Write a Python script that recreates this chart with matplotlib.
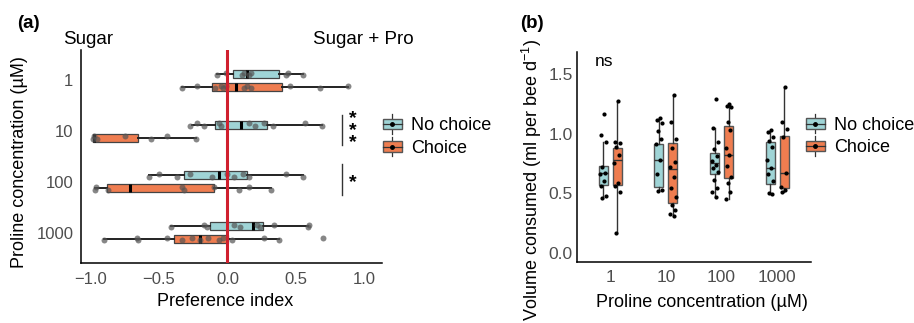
import matplotlib
matplotlib.use('Agg')
import matplotlib.pyplot as plt
import numpy as np
from matplotlib.patches import Rectangle, Patch
from matplotlib.lines import Line2D
from matplotlib.legend_handler import HandlerBase

plt.rcParams['font.family'] = 'Liberation Sans'
plt.rcParams['mathtext.fontset'] = 'custom'
plt.rcParams['mathtext.rm'] = 'Liberation Sans'
plt.rcParams['axes.linewidth'] = 1.1

# ---- data ----
concs = ['1', '10', '100', '1000']
groups = ['No choice', 'Choice']

# (a) preference index, box stats per concentration
pref_nc_lo = [-0.075, -0.26, -0.57, -0.41]
pref_nc_q1 = [0.04, -0.09, -0.32, -0.13]
pref_nc_med = [0.14, 0.10, -0.06, 0.19]
pref_nc_q3 = [0.375, 0.29, 0.14, 0.26]
pref_nc_hi = [0.55, 0.69, 0.55, 0.59]

pref_c_lo = [-0.33, -0.985, -0.97, -0.90]
pref_c_q1 = [-0.11, -0.98, -0.88, -0.39]
pref_c_med = [0.06, -0.975, -0.71, -0.20]
pref_c_q3 = [0.40, -0.65, -0.10, 0.005]
pref_c_hi = [0.885, -0.23, 0.32, 0.375]

pref_nc_pts = [
    [-0.075, -0.01, 0.11, 0.12, 0.16, 0.17, 0.43, 0.44, 0.55],
    [-0.27, -0.22, -0.17, -0.06, -0.05, 0.155, 0.205, 0.265, 0.33, 0.57, 0.69],
    [-0.57, -0.50, -0.365, -0.275, -0.11, 0.0, 0.05, 0.115, 0.16, 0.43, 0.55],
    [-0.41, -0.17, -0.15, 0.05, 0.09, 0.22, 0.24, 0.34, 0.59, 0.60],
]
pref_c_pts = [
    [-0.33, -0.22, -0.09, -0.05, -0.03, -0.01, 0.12, 0.14, 0.17, 0.455, 0.68, 0.885],
    [-0.985, -0.975, -0.95, -0.75, -0.555, -0.44, -0.23],
    [-0.97, -0.96, -0.87, -0.33, -0.32, -0.10, 0.085, 0.155, 0.32],
    [-0.90, -0.66, -0.655, -0.445, -0.33, -0.26, -0.20, -0.14, -0.06, -0.03,
     0.035, 0.265, 0.375, 0.70],
]

# (b) volume consumed
vol_nc_lo = [0.46, 0.52, 0.47, 0.49]
vol_nc_q1 = [0.57, 0.55, 0.66, 0.58]
vol_nc_med = [0.67, 0.775, 0.75, 0.71]
vol_nc_q3 = [0.73, 0.915, 0.835, 0.93]
vol_nc_hi = [0.93, 1.13, 1.05, 1.03]

vol_c_lo = [0.17, 0.31, 0.45, 0.51]
vol_c_q1 = [0.57, 0.42, 0.63, 0.545]
vol_c_med = [0.78, 0.705, 0.82, 0.67]
vol_c_q3 = [0.88, 0.92, 1.065, 0.98]
vol_c_hi = [1.27, 1.32, 1.25, 1.39]

vol_nc_pts = [
    [1.16, 0.99, 0.93, 0.72, 0.67, 0.66, 0.60, 0.56, 0.48, 0.46],
    [1.13, 1.11, 1.09, 1.02, 0.95, 0.91, 0.78, 0.66, 0.53, 0.52],
    [1.29, 1.05, 0.93, 0.87, 0.81, 0.77, 0.74, 0.71, 0.68, 0.61, 0.54, 0.51, 0.47],
    [1.03, 1.01, 0.97, 0.94, 0.89, 0.78, 0.71, 0.66, 0.60, 0.50, 0.49],
]
vol_c_pts = [
    [1.27, 0.93, 0.92, 0.89, 0.82, 0.75, 0.59, 0.56, 0.51, 0.17],
    [1.32, 1.10, 0.95, 0.88, 0.76, 0.72, 0.64, 0.54, 0.47, 0.40, 0.36, 0.33, 0.31],
    [1.25, 1.23, 1.22, 1.10, 1.03, 0.88, 0.82, 0.73, 0.64, 0.59, 0.51, 0.45],
    [1.39, 1.10, 1.04, 0.97, 0.67, 0.55, 0.53, 0.51],
]

teal = '#9fd4d6'
orange = '#ef7d50'
red = '#d0202e'
grey_txt = '#4d4d4d'


def make_stats(lo, q1, med, q3, hi):
    return [dict(whislo=a, q1=b, med=c, q3=d, whishi=e, fliers=[])
            for a, b, c, d, e in zip(lo, q1, med, q3, hi)]


class BoxKey(HandlerBase):
    # ggplot-like boxplot legend key
    def create_artists(self, legend, orig_handle, xdescent, ydescent,
                       width, height, fontsize, trans):
        x0, y0 = -xdescent, -ydescent
        cx, cy = x0 + width / 2, y0 + height / 2
        whisk = Line2D([cx, cx], [y0 - 2, y0 + height + 2], color='#333333',
                       lw=0.9, transform=trans)
        box = Rectangle((x0, y0 + 0.12 * height), width, 0.76 * height,
                        facecolor=orig_handle.get_facecolor(), edgecolor='#555555',
                        lw=1.0, transform=trans)
        med = Line2D([x0, x0 + width], [cy, cy], color='#333333', lw=0.9,
                     transform=trans)
        dot = Line2D([cx], [cy], marker='o', ms=2.5, color='black',
                     transform=trans)
        return [whisk, box, med, dot]


fig = plt.figure(figsize=(9.14, 3.23), dpi=100)

# ================= panel (a) =================
axa = fig.add_axes([81 / 914, 60 / 323, 301 / 914, 213 / 323])
ypos = np.arange(len(concs))
off = 0.128
boxkw = dict(orientation='horizontal', showfliers=False, patch_artist=True,
             widths=0.16, showcaps=False,
             whiskerprops=dict(color='#222222', lw=1.4),
             medianprops=dict(color='black', lw=2.2))
for stats, pos, col in [
        (make_stats(pref_nc_lo, pref_nc_q1, pref_nc_med, pref_nc_q3, pref_nc_hi), ypos - off, teal),
        (make_stats(pref_c_lo, pref_c_q1, pref_c_med, pref_c_q3, pref_c_hi), ypos + off, orange)]:
    bp = axa.bxp(stats, positions=pos, boxprops=dict(facecolor=col, edgecolor='#444444', lw=0.9),
                 **boxkw)
    for m in bp['medians']:
        m.set_zorder(3)
        m.set_solid_capstyle('butt')

for pts_list, sign in [(pref_nc_pts, -1), (pref_c_pts, 1)]:
    for i, pts in enumerate(pts_list):
        jit = 0.025 * np.array([(-1) ** k for k in range(len(pts))])
        axa.plot(pts, ypos[i] + sign * off + jit, 'o', ms=4.3, color='#555555',
                 alpha=0.7, mec='none', zorder=4)

axa.axvline(0, color=red, lw=2.2, zorder=5)

axa.set_xlim(-1.07, 1.13)
axa.set_ylim(3.6, -0.6)
axa.set_yticks(ypos)
axa.set_yticklabels(concs)
axa.set_xticks([-1.0, -0.5, 0.0, 0.5, 1.0])
axa.set_xticklabels(['\u22121.0', '\u22120.5', '0.0', '0.5', '1.0'])
axa.tick_params(length=0, labelsize=12, labelcolor=grey_txt)
axa.tick_params(axis='x', pad=6.5)
axa.tick_params(axis='y', pad=5.5)
for s in ['top', 'right']:
    axa.spines[s].set_visible(False)
axa.set_xlabel('Preference index', fontsize=13)
axa.xaxis.set_label_coords(0.48, -0.183)
axa.xaxis.label.set_va('center')
fig.text(20 / 914, 1 - 162 / 323, 'Proline concentration (\u00b5M)', rotation=90,
         ha='center', va='center', fontsize=13)

# significance marks
axa.plot([0.84, 0.84], [0.68, 1.27], color='#333333', lw=1)
axa.text(0.915, 0.99, '*\n*\n*', ha='center', va='center', fontsize=14,
         fontweight='bold', linespacing=0.62)
axa.plot([0.84, 0.84], [1.65, 2.26], color='#333333', lw=1)
axa.text(0.915, 2.02, '*', ha='center', va='center', fontsize=14, fontweight='bold')

fig.text(63 / 914, 1 - 40 / 323, 'Sugar', ha='left', va='center', fontsize=13.5)
fig.text(313 / 914, 1 - 40 / 323, 'Sugar + Pro', ha='left', va='center', fontsize=13.5)
fig.text(17 / 914, 1 - 24 / 323, '(a)', ha='left', va='center', fontsize=13.5,
         fontweight='bold')

handles = [Patch(facecolor=teal), Patch(facecolor=orange)]
leg_kw = dict(handler_map={Patch: BoxKey()}, frameon=False, fontsize=13,
              handlelength=1.05, handleheight=0.8, handletextpad=0.5,
              labelspacing=0.3, borderpad=0, borderaxespad=0, loc='center left')
fig.legend(handles, groups, bbox_to_anchor=(383 / 914, 1 - 137 / 323), **leg_kw)

# ================= panel (b) =================
axb = fig.add_axes([576.7 / 914, 61.3 / 323, 234 / 914, 210 / 323])
xpos = np.arange(1, len(concs) + 1)
offb = 0.125
boxkw_b = dict(showfliers=False, patch_artist=True, widths=0.16, showcaps=False,
               whiskerprops=dict(color='#333333', lw=1.0),
               medianprops=dict(color='#333333', lw=1.0))
for stats, pos, col in [
        (make_stats(vol_nc_lo, vol_nc_q1, vol_nc_med, vol_nc_q3, vol_nc_hi), xpos - offb, teal),
        (make_stats(vol_c_lo, vol_c_q1, vol_c_med, vol_c_q3, vol_c_hi), xpos + offb, orange)]:
    axb.bxp(stats, positions=pos, boxprops=dict(facecolor=col, edgecolor='#555555', lw=1.0),
            **boxkw_b)

for pts_list, sign in [(vol_nc_pts, -1), (vol_c_pts, 1)]:
    for i, pts in enumerate(pts_list):
        jit = 0.035 * np.array([(-1) ** k * (1 + (k % 3)) / 2 for k in range(len(pts))])
        axb.plot(xpos[i] + sign * offb + jit, pts, 'o', ms=3.0, color='black',
                 mec='none', zorder=4)

axb.text(0.72, 1.6, 'ns', ha='left', va='center', fontsize=12.5)
axb.set_xlim(0.4, 4.6)
axb.set_ylim(-0.073, 1.685)
axb.set_xticks(xpos)
axb.set_xticklabels(concs)
axb.set_yticks([0.0, 0.5, 1.0, 1.5])
axb.set_yticklabels(['0.0', '0.5', '1.0', '1.5'])
axb.tick_params(length=0, labelsize=12.5, labelcolor=grey_txt)
axb.tick_params(axis='x', pad=6)
axb.tick_params(axis='y', pad=3)
for s in ['top', 'right']:
    axb.spines[s].set_visible(False)
axb.set_xlabel('Proline concentration (\u00b5M)', fontsize=13)
axb.xaxis.set_label_coords(0.535, -0.195)
axb.xaxis.label.set_va('center')
fig.text(532 / 914, 1 - 180 / 323, 'Volume consumed (ml per bee d$^{\u22121}$)',
         rotation=90, ha='center', va='center', fontsize=13)
fig.text(520 / 914, 1 - 23 / 323, '(b)', ha='left', va='center', fontsize=13.5,
         fontweight='bold')
fig.legend(handles, groups, bbox_to_anchor=(806 / 914, 1 - 136.5 / 323), **leg_kw)

fig.savefig('out.png', dpi=100)
